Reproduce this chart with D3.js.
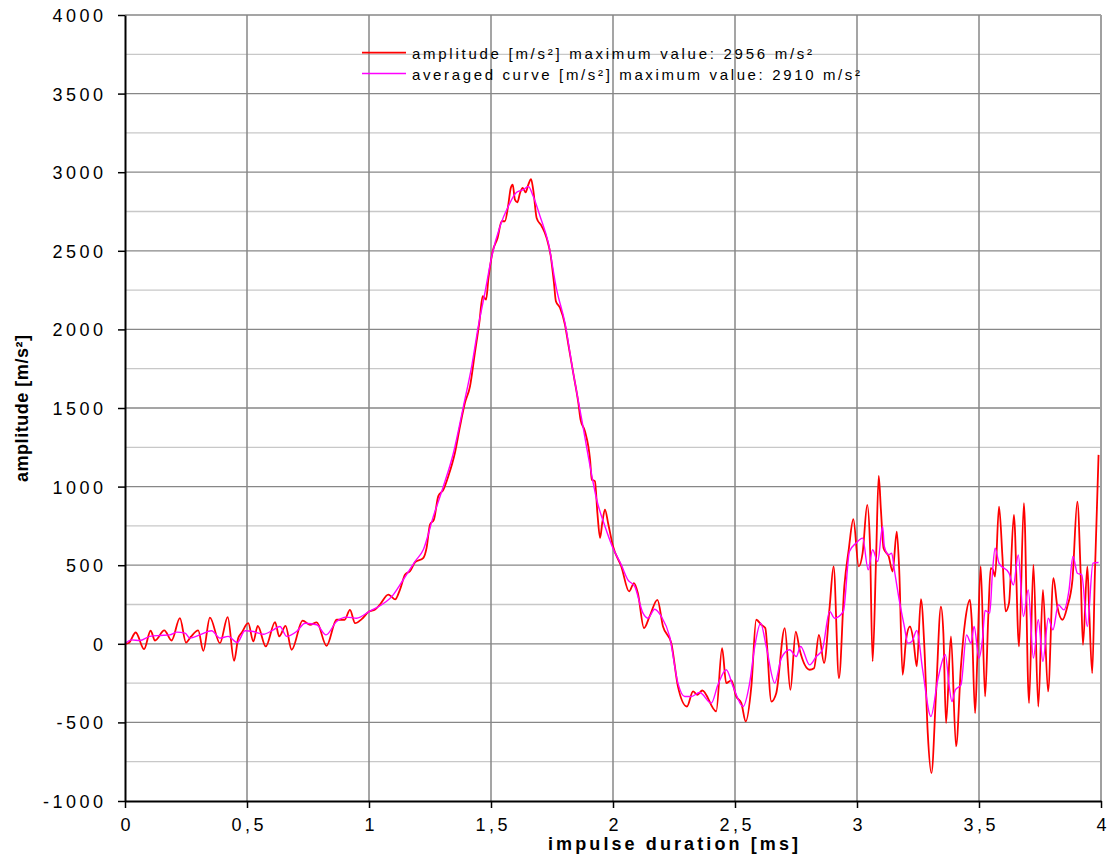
<!DOCTYPE html>
<html>
<head>
<meta charset="utf-8">
<script src="https://cdn.jsdelivr.net/npm/d3@7"></script>
<style>
  body { margin: 0; background: #fff; }
  svg { display: block; }
</style>
</head>
<body>
<svg id="chart"></svg>
<script>
// measured curve, impulse duration [ms] / amplitude [m/s²]
var ampT = [0,0.015,0.044,0.078,0.105,0.123,0.161,0.191,0.225,0.25,0.27,0.30,0.321,0.348,0.389,0.421,0.447,0.464,0.478,0.505,0.526,0.544,0.577,0.615,0.632,0.658,0.683,0.728,0.758,0.786,0.826,0.867,0.90,0.922,0.943,0.97,
  1.0,1.025,1.045,1.079,1.09,1.107,1.127,1.148,1.168,1.189,1.223,1.236,1.25,1.266,1.284,1.305,1.325,1.352,1.373,1.393,1.414,1.434,1.452,1.466,1.48,1.489,1.507,1.527,1.544,1.557,1.571,1.581,1.589,1.598,1.608,1.619,1.63,1.642,1.653,1.664,1.673,1.687,1.708,1.728,1.745,1.758,1.766,1.783,1.803,1.817,1.837,1.858,1.867,1.885,1.906,1.913,1.926,1.936,1.947,1.956,1.967,1.981,
  2.0,2.034,2.066,2.086,2.102,2.127,2.15,2.182,2.205,2.239,2.266,2.303,2.328,2.346,2.366,2.423,2.447,2.464,2.485,2.505,2.526,2.544,2.567,2.587,2.608,2.624,2.649,2.669,2.704,2.727,2.749,2.765,2.806,2.824,2.844,2.865,2.888,2.904,2.926,2.948,2.966,2.985,
  3.007,3.023,3.042,3.053,3.064,3.078,3.089,3.098,3.109,3.13,3.146,3.163,3.173,3.187,3.201,3.217,3.231,3.245,3.262,3.276,3.29,3.305,3.324,3.344,3.354,3.365,3.385,3.406,3.426,3.444,3.463,3.47,3.484,3.493,
  3.507,3.525,3.538,3.548,3.557,3.566,3.582,3.596,3.609,3.623,3.643,3.664,3.684,3.705,3.723,3.743,3.762,3.783,3.805,3.821,3.842,3.862,3.883,3.903,3.917,3.926,3.944,3.951,3.964,3.975,3.99];
var ampV = [0,5,72,-34,83,21,85,21,163,8,45,85,-45,167,4,170,-108,36,70,131,15,114,-17,138,47,114,-38,148,121,136,-13,153,153,216,131,157,
  205,218,250,313,303,282,345,441,462,519,547,610,759,790,939,981,1066,1214,1384,1532,1638,1850,2041,2211,2190,2317,2497,2582,2688,2688,2794,2900,2921,2826,2809,2868,2900,2872,2921,2956,2889,2709,2656,2582,2465,2296,2179,2137,2031,1903,1723,1532,1426,1352,1172,1045,1034,833,674,769,854,759,
  620,492,333,386,322,100,174,280,110,4,-271,-399,-303,-324,-297,-430,-28,-250,-233,-335,-377,-494,-271,153,121,100,-367,-314,100,-293,78,-38,-165,-155,57,-123,237,492,-218,365,598,793,
  492,577,884,640,-112,534,1068,852,608,555,460,714,471,-197,25,110,25,-144,284,-17,-568,-823,-314,237,68,-505,47,-653,-144,153,280,153,-441,-102,
  492,-335,174,481,471,428,873,555,206,259,820,-17,895,-377,502,-399,343,-303,418,237,153,237,407,905,428,-6,492,237,-187,449,1202];

// averaged curve
var avgT = [0,0.027,0.061,0.102,0.143,0.184,0.212,0.246,0.266,0.307,0.355,0.389,0.423,0.46,0.492,0.526,0.567,0.608,0.635,0.663,0.703,0.738,0.786,0.824,0.867,0.908,0.949,
  1.0,1.1,1.141,1.189,1.223,1.264,1.305,1.346,1.387,1.421,1.448,1.475,1.503,1.537,1.571,1.605,1.633,1.653,1.673,1.701,1.735,1.769,1.803,1.837,1.872,1.906,1.933,1.967,
  2.0,2.034,2.061,2.089,2.123,2.143,2.171,2.198,2.232,2.266,2.294,2.321,2.355,2.403,2.43,2.464,2.492,2.533,2.56,2.581,2.605,2.628,2.663,2.69,2.724,2.751,2.769,2.806,2.833,2.858,2.888,2.908,2.944,2.969,2.996,
  3.023,3.046,3.064,3.085,3.105,3.112,3.13,3.142,3.153,3.173,3.194,3.208,3.225,3.245,3.269,3.303,3.331,3.362,3.378,3.389,3.403,3.426,3.449,3.467,3.48,3.5,
  3.514,3.525,3.544,3.555,3.566,3.582,3.623,3.641,3.661,3.682,3.702,3.723,3.743,3.762,3.784,3.803,3.825,3.848,3.869,3.885,3.903,3.921,3.944,3.967,3.99];
var avgV = [0,25,21,47,53,57,74,68,36,57,83,36,47,8,83,78,61,89,110,47,78,131,121,57,142,170,163,
  205,313,409,525,600,812,1002,1214,1511,1766,2020,2232,2465,2656,2783,2872,2889,2910,2847,2720,2550,2253,2041,1723,1426,1130,918,748,
  608,502,407,365,195,163,220,174,47,-250,-335,-335,-310,-377,-261,-165,-271,-399,-250,-17,131,-17,-250,-91,-38,-81,-17,-134,-81,-38,206,163,206,587,640,
  672,471,598,524,746,619,566,577,471,280,110,4,15,85,-165,-462,-229,-70,-271,-367,-293,-261,57,4,110,-91,
  25,212,195,449,608,513,449,375,566,174,343,-91,153,-112,163,89,248,216,343,555,449,439,110,513,517];

var xTicks      = [0, 0.5, 1, 1.5, 2, 2.5, 3, 3.5, 4];
var xTickLabels = ["0", "0,5", "1", "1,5", "2", "2,5", "3", "3,5", "4"];
var yTicks      = [-1000, -500, 0, 500, 1000, 1500, 2000, 2500, 3000, 3500, 4000];
var yTickLabels = ["-1000", "-500", "0", "500", "1000", "1500", "2000", "2500", "3000", "3500", "4000"];
var yMinorTicks = [-750, -250, 250, 750, 1250, 1750, 2250, 2750, 3250, 3750];
var seriesNames = ["amplitude [m/s²] maximum value: 2956 m/s²",
                   "averaged curve [m/s²] maximum value: 2910 m/s²"];
var seriesColors = ["#ff0000", "#ff00ff"];

var W = 1112, H = 862;
var margin = {top: 15, right: 11, bottom: 61, left: 125};

var svg = d3.select("#chart").attr("width", W).attr("height", H);

var x = d3.scaleLinear().domain([0, 4]).range([margin.left, W - margin.right]);
var y = d3.scaleLinear().domain([-1000, 4000]).range([H - margin.bottom, margin.top]);

var font = "'Liberation Sans', Arial, sans-serif";

// minor horizontal grid
svg.append("g").selectAll("line")
  .data(yMinorTicks).enter().append("line")
  .attr("x1", x(0)).attr("x2", x(4))
  .attr("y1", function (d) { return y(d); })
  .attr("y2", function (d) { return y(d); })
  .attr("stroke", "#c8c8c8").attr("stroke-width", 1.3);

// major horizontal grid
svg.append("g").selectAll("line")
  .data(yTicks.filter(function (d) { return d > -1000; })).enter().append("line")
  .attr("x1", x(0)).attr("x2", x(4))
  .attr("y1", function (d) { return y(d); })
  .attr("y2", function (d) { return y(d); })
  .attr("stroke", "#878787").attr("stroke-width", 1.3);

// vertical grid
svg.append("g").selectAll("line")
  .data(xTicks.filter(function (d) { return d > 0; })).enter().append("line")
  .attr("x1", function (d) { return x(d); })
  .attr("x2", function (d) { return x(d); })
  .attr("y1", y(4000)).attr("y2", y(-1000))
  .attr("stroke", function (d) { return d === 4 ? "#a0a0a0" : "#878787"; })
  .attr("stroke-width", function (d) { return d === 4 ? 2 : 1.5; });

// curves
var line = d3.line()
  .x(function (d) { return x(d[0]); })
  .y(function (d) { return y(d[1]); })
  .curve(d3.curveMonotoneX);

var ampData = d3.zip(ampT, ampV);
var avgData = d3.zip(avgT, avgV);

svg.append("path").datum(ampData)
  .attr("d", line).attr("fill", "none")
  .attr("stroke", seriesColors[0]).attr("stroke-width", 1.8);

svg.append("path").datum(avgData)
  .attr("d", line).attr("fill", "none")
  .attr("stroke", seriesColors[1]).attr("stroke-width", 1.4);

// axes
var yAxis = d3.axisLeft(y).tickValues(yTicks).tickSize(7).tickSizeOuter(0).tickPadding(11.5)
  .tickFormat(function (d, i) { return yTickLabels[i]; });
var gy = svg.append("g").attr("transform", "translate(" + x(0) + ",0)").call(yAxis);
gy.select(".domain").attr("stroke", "#000").attr("stroke-width", 2);
gy.selectAll(".tick line").attr("stroke", "#000").attr("stroke-width", 1.5);
gy.selectAll(".tick text")
  .attr("font-family", font).attr("font-size", 18)
  .attr("letter-spacing", "3.5px").attr("fill", "#000")
  .attr("dy", "0.36em");

var xAxis = d3.axisBottom(x).tickValues(xTicks).tickSize(7).tickSizeOuter(0).tickPadding(10)
  .tickFormat(function (d, i) { return xTickLabels[i]; });
var gx = svg.append("g").attr("transform", "translate(0," + y(-1000) + ")").call(xAxis);
gx.select(".domain").attr("stroke", "#000").attr("stroke-width", 2);
gx.selectAll(".tick line").attr("stroke", "#000").attr("stroke-width", 1.5);
gx.selectAll(".tick text")
  .attr("font-family", font).attr("font-size", 18)
  .attr("letter-spacing", "3.5px").attr("fill", "#000")
  .attr("dx", "1.75");

// axis titles
svg.append("text")
  .attr("x", 548).attr("y", 850)
  .attr("font-family", font).attr("font-size", 18).attr("font-weight", "bold")
  .attr("textLength", 250).attr("lengthAdjust", "spacing")
  .text("impulse duration [ms]");

svg.append("text")
  .attr("transform", "translate(28,482) rotate(-90)")
  .attr("font-family", font).attr("font-size", 18).attr("font-weight", "bold")
  .attr("textLength", 147).attr("lengthAdjust", "spacing")
  .text("amplitude [m/s²]");

// legend
var legendLen = [400, 448];
var legend = svg.append("g").selectAll("g")
  .data(seriesNames).enter().append("g")
  .attr("transform", function (d, i) { return "translate(362," + (52.7 + i * 20.8) + ")"; });
legend.append("line")
  .attr("x1", 0).attr("x2", 44).attr("y1", 0).attr("y2", 0)
  .attr("stroke", function (d, i) { return seriesColors[i]; })
  .attr("stroke-width", function (d, i) { return i === 0 ? 1.8 : 1.4; });
legend.append("text")
  .attr("x", 50).attr("y", 6)
  .attr("font-family", font).attr("font-size", 15).attr("fill", "#000")
  .attr("textLength", function (d, i) { return legendLen[i]; })
  .attr("lengthAdjust", "spacing")
  .text(function (d) { return d; });
</script>
</body>
</html>
